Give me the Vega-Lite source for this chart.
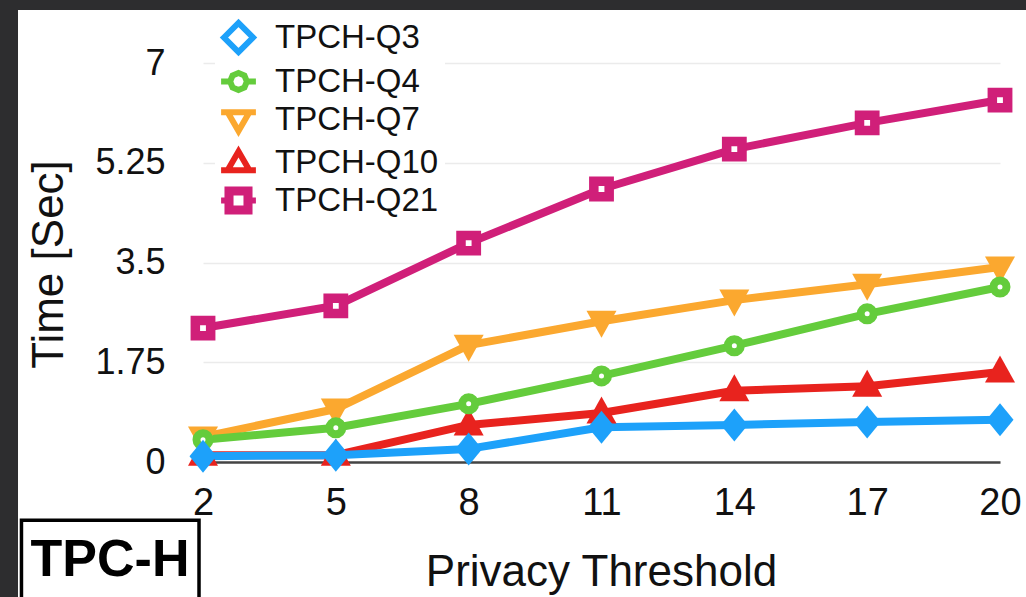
{
  "$schema": "https://vega.github.io/schema/vega-lite/v6.json",
  "autosize": {"type": "none"},
  "width": 797,
  "height": 399,
  "padding": {"left": 203, "top": 63, "right": 26, "bottom": 135},
  "background": "white",
  "config": {
    "font": "Liberation Sans",
    "view": {"stroke": null},
    "axis": {"labelFont": "Liberation Sans", "titleFont": "Liberation Sans", "labelColor": "#111", "titleColor": "#111", "titleFontWeight": "normal", "ticks": false}
  },
  "datasets": {
    "times": [
      {"series": "TPCH-Q21", "threshold": 2, "time": 2.35},
      {"series": "TPCH-Q21", "threshold": 5, "time": 2.74},
      {"series": "TPCH-Q21", "threshold": 8, "time": 3.84},
      {"series": "TPCH-Q21", "threshold": 11, "time": 4.79},
      {"series": "TPCH-Q21", "threshold": 14, "time": 5.49},
      {"series": "TPCH-Q21", "threshold": 17, "time": 5.95},
      {"series": "TPCH-Q21", "threshold": 20, "time": 6.35},
      {"series": "TPCH-Q10", "threshold": 2, "time": 0.12},
      {"series": "TPCH-Q10", "threshold": 5, "time": 0.12},
      {"series": "TPCH-Q10", "threshold": 8, "time": 0.65},
      {"series": "TPCH-Q10", "threshold": 11, "time": 0.86},
      {"series": "TPCH-Q10", "threshold": 14, "time": 1.25},
      {"series": "TPCH-Q10", "threshold": 17, "time": 1.33},
      {"series": "TPCH-Q10", "threshold": 20, "time": 1.58},
      {"series": "TPCH-Q7", "threshold": 2, "time": 0.44},
      {"series": "TPCH-Q7", "threshold": 5, "time": 0.93},
      {"series": "TPCH-Q7", "threshold": 8, "time": 2.05},
      {"series": "TPCH-Q7", "threshold": 11, "time": 2.47},
      {"series": "TPCH-Q7", "threshold": 14, "time": 2.84},
      {"series": "TPCH-Q7", "threshold": 17, "time": 3.12},
      {"series": "TPCH-Q7", "threshold": 20, "time": 3.42},
      {"series": "TPCH-Q4", "threshold": 2, "time": 0.39},
      {"series": "TPCH-Q4", "threshold": 5, "time": 0.6},
      {"series": "TPCH-Q4", "threshold": 8, "time": 1.02},
      {"series": "TPCH-Q4", "threshold": 11, "time": 1.51},
      {"series": "TPCH-Q4", "threshold": 14, "time": 2.04},
      {"series": "TPCH-Q4", "threshold": 17, "time": 2.6},
      {"series": "TPCH-Q4", "threshold": 20, "time": 3.07},
      {"series": "TPCH-Q3", "threshold": 2, "time": 0.1},
      {"series": "TPCH-Q3", "threshold": 5, "time": 0.12},
      {"series": "TPCH-Q3", "threshold": 8, "time": 0.23},
      {"series": "TPCH-Q3", "threshold": 11, "time": 0.61},
      {"series": "TPCH-Q3", "threshold": 14, "time": 0.65},
      {"series": "TPCH-Q3", "threshold": 17, "time": 0.7},
      {"series": "TPCH-Q3", "threshold": 20, "time": 0.74}
    ],
    "decor": [{"label": "TPC-H"}]
  },
  "layer": [
    {
      "data": {"name": "times"},
      "mark": {"type": "line", "strokeWidth": 8, "strokeJoin": "round"},
      "encoding": {
        "x": {
          "field": "threshold", "type": "quantitative",
          "scale": {"domain": [2, 20], "nice": false, "zero": false},
          "axis": {
            "values": [2, 5, 8, 11, 14, 17, 20], "title": "Privacy Threshold",
            "grid": false, "domain": true, "domainColor": "#444", "domainWidth": 2.5,
            "labelFontSize": 38, "labelPadding": 22, "labelFlush": false,
            "titleFontSize": 44, "titleX": 398, "titleY": 123, "titleBaseline": "alphabetic", "titleAlign": "center"
          }
        },
        "y": {
          "field": "time", "type": "quantitative",
          "scale": {"domain": [0, 7], "nice": false, "zero": true},
          "axis": {
            "values": [0, 1.75, 3.5, 5.25, 7], "labelExpr": "'' + datum.value", "title": "Time [Sec]",
            "domain": false, "grid": true, "gridColor": "#ebebeb", "gridWidth": 1.5,
            "labelFontSize": 36, "labelPadding": 38,
            "titleFontSize": 44, "titleX": -154, "titleY": 201, "titleAlign": "center", "titleBaseline": "middle", "titleAngle": -90
          }
        },
        "color": {
          "field": "series", "type": "nominal", "legend": null,
          "scale": {"domain": ["TPCH-Q21", "TPCH-Q10", "TPCH-Q7", "TPCH-Q4", "TPCH-Q3"], "range": ["#d01f79", "#e8231e", "#fba82f", "#64cc3c", "#1da1fa"]}
        }
      }
    },
    {
      "data": {"name": "times"},
      "mark": {"type": "point", "filled": false, "opacity": 1},
      "encoding": {
        "x": {"field": "threshold", "type": "quantitative"},
        "y": {"field": "time", "type": "quantitative"},
        "color": {"field": "series", "type": "nominal", "legend": null},
        "fill": {
          "condition": {"test": "datum.series === 'TPCH-Q4' || datum.series === 'TPCH-Q21'", "value": "white"},
          "field": "series", "type": "nominal", "legend": null,
          "scale": {"domain": ["TPCH-Q21", "TPCH-Q10", "TPCH-Q7", "TPCH-Q4", "TPCH-Q3"], "range": ["#d01f79", "#e8231e", "#fba82f", "#64cc3c", "#1da1fa"]}
        },
        "shape": {
          "condition": [
            {"test": "datum.series === 'TPCH-Q3'", "value": "M-0.82,0L0,-1L0.82,0L0,1Z"},
            {"test": "datum.series === 'TPCH-Q4'", "value": "circle"},
            {"test": "datum.series === 'TPCH-Q7'", "value": "M-1,-0.7L1,-0.7L0,1.1Z"},
            {"test": "datum.series === 'TPCH-Q10'", "value": "M-1,0.7L1,0.7L0,-1.1Z"}
          ],
          "value": "square"
        },
        "size": {
          "condition": [
            {"test": "datum.series === 'TPCH-Q3'", "value": 1089},
            {"test": "datum.series === 'TPCH-Q4'", "value": 169},
            {"test": "datum.series === 'TPCH-Q7'", "value": 900},
            {"test": "datum.series === 'TPCH-Q10'", "value": 900}
          ],
          "value": 235
        },
        "strokeWidth": {
          "condition": [
            {"test": "datum.series === 'TPCH-Q4'", "value": 8},
            {"test": "datum.series === 'TPCH-Q21'", "value": 9.5}
          ],
          "value": 0
        }
      }
    },
    {
      "data": {"name": "times"},
      "transform": [{"filter": "datum.threshold < 0"}],
      "mark": {"type": "point", "filled": false, "strokeWidth": 6, "size": 841, "opacity": 1},
      "encoding": {
        "x": {"field": "threshold", "type": "quantitative"},
        "y": {"field": "time", "type": "quantitative"},
        "stroke": {
          "field": "series", "type": "nominal",
          "scale": {"domain": ["TPCH-Q3", "TPCH-Q4", "TPCH-Q7", "TPCH-Q10", "TPCH-Q21"], "range": ["#1da1fa", "#64cc3c", "#fba82f", "#e8231e", "#d01f79"]},
          "legend": {
            "title": null, "orient": "none", "legendX": 12, "legendY": -49,
            "padding": 6, "fillColor": "white",
            "labelFontSize": 33, "labelFont": "Liberation Sans", "labelColor": "#111", "labelLimit": 400,
            "labelOffset": 19, "rowPadding": -5.5, "symbolSize": 841, "symbolStrokeWidth": 6, "symbolFillColor": "white"
          }
        },
        "shape": {
          "field": "series", "type": "nominal",
          "scale": {
            "domain": ["TPCH-Q3", "TPCH-Q4", "TPCH-Q7", "TPCH-Q10", "TPCH-Q21"],
            "range": [
              "M-1,0L0,-1L1,0L0,1Z",
              "M-0.58,0L-0.41,-0.41L0,-0.58L0.41,-0.41L0.58,0L0.41,0.41L0,0.58L-0.41,0.41ZM-1.2,0L-0.58,0M0.58,0L1.2,0",
              "M-0.75,-0.5L0.75,-0.5L0,0.8ZM-1.2,-0.5L-0.75,-0.5M0.75,-0.5L1.2,-0.5",
              "M-0.75,0.5L0.75,0.5L0,-0.8ZM-1.2,0.5L-0.75,0.5M0.75,0.5L1.2,0.5",
              "M-0.76,-0.76L0.76,-0.76L0.76,0.76L-0.76,0.76ZM-0.55,-0.55L0.55,-0.55L0.55,0.55L-0.55,0.55ZM-1.2,0L-0.76,0M0.76,0L1.2,0"
            ]
          }
        }
      }
    },
    {
      "data": {"name": "decor"},
      "mark": {"type": "rect", "fill": "#2d2d2f", "clip": false},
      "encoding": {
        "x": {"datum": -2.8, "type": "quantitative"},
        "x2": {"datum": -2.178},
        "y": {"datum": 8.3, "type": "quantitative"},
        "y2": {"datum": -2.5}
      }
    },
    {
      "data": {"name": "decor"},
      "mark": {"type": "rect", "fill": "#2d2d2f", "clip": false},
      "encoding": {
        "x": {"datum": -2.8, "type": "quantitative"},
        "x2": {"datum": 20.8},
        "y": {"datum": 8.3, "type": "quantitative"},
        "y2": {"datum": 7.93}
      }
    },
    {
      "data": {"name": "decor"},
      "mark": {"type": "rect", "fill": "white", "stroke": "black", "strokeWidth": 3.5, "clip": false},
      "encoding": {
        "x": {"datum": -2.1, "type": "quantitative"},
        "x2": {"datum": 1.91},
        "y": {"datum": -1.02, "type": "quantitative"},
        "y2": {"datum": -2.5}
      }
    },
    {
      "data": {"name": "decor"},
      "mark": {"type": "text", "font": "Liberation Sans", "fontWeight": "bold", "fontSize": 52, "align": "center", "baseline": "middle", "color": "black", "clip": false},
      "encoding": {
        "text": {"field": "label"},
        "x": {"datum": -0.1, "type": "quantitative"},
        "y": {"datum": -1.72, "type": "quantitative"}
      }
    }
  ]
}
